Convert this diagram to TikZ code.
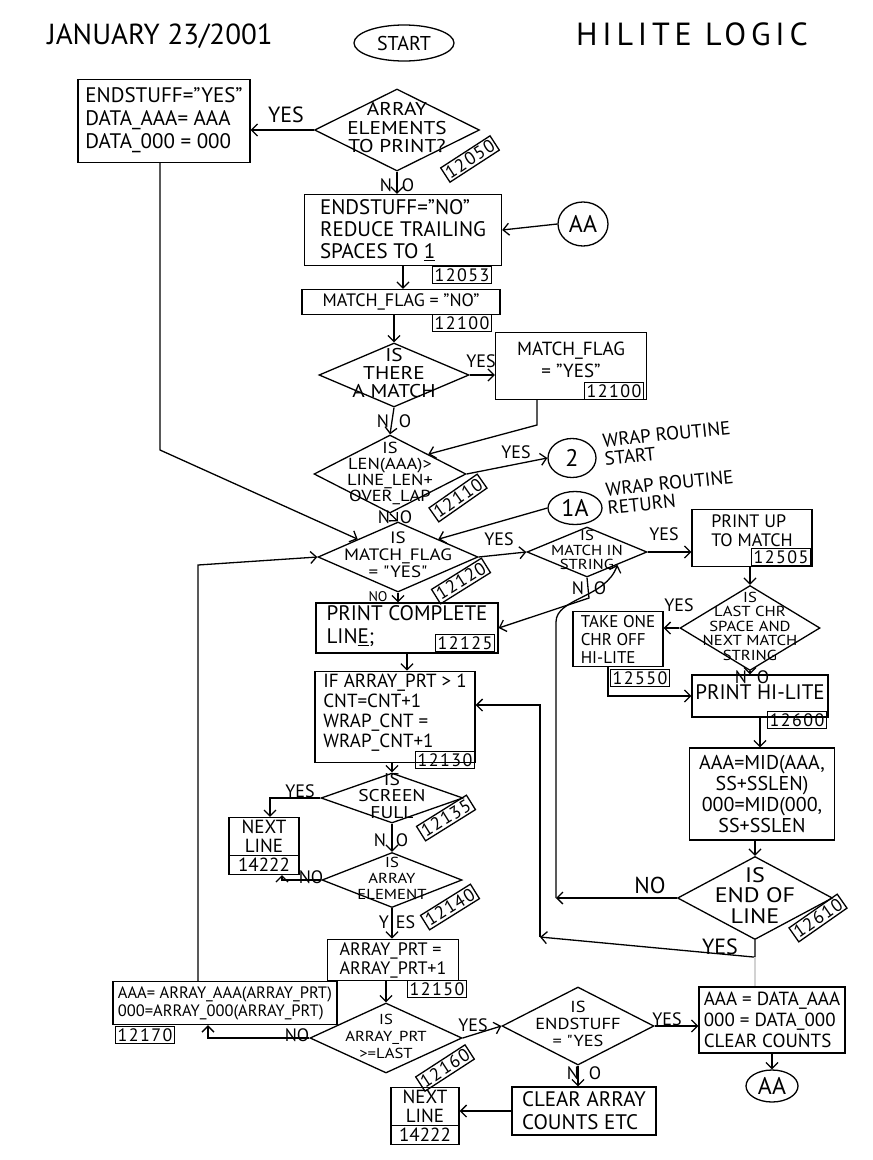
\documentclass[tikz,border=0pt]{standalone}
\usepackage{fontspec}
\setmainfont{PT Sans}
\newfontfamily\tagfont[LetterSpace=8]{PT Sans}
\newfontfamily\dfont[FakeStretch=1.15]{PT Sans}
\usetikzlibrary{shapes.geometric}
\usetikzlibrary{shapes.multipart}
\usetikzlibrary{arrows.meta}
\tikzset{>={Straight Barb[length=6pt,width=12pt]}}
\tikzset{
	% process boxes
	procbox/.style={draw, rectangle, inner sep=3pt, align=left, font=\fontsize{21}{23}\selectfont},
	% decisions
	decide/.style={draw, diamond, inner sep=0pt, font=\dfont\fontsize{17}{16}\selectfont},
	% page connectors and start
	pagecon/.style={draw, ellipse, inner sep=0pt, font=\fontsize{24}{24}\selectfont},
	% statement numbers
	numtag/.style={draw, inner xsep=2pt, inner ysep=2pt, font=\tagfont\fontsize{18}{18}\selectfont},
	% yes / no on the lines
	flowlbl/.style={inner sep=1pt, font=\fontsize{18}{18}\selectfont},
	% next line boxes
	nextbox/.style={draw, rectangle split, rectangle split parts=2, align=center, inner sep=2pt, font=\fontsize{19}{19}\selectfont},
}
% text of a diamond, kept out of its size
\newcommand{\dtext}[1]{\makebox[0pt]{\begin{tabular}{@{}c@{}}#1\end{tabular}}}

\begin{document}
\begin{tikzpicture}[x=1pt,y=-1pt,line width=1.3pt]
\useasboundingbox (0,0) rectangle (873,1160);
% heading
\node[font=\fontsize{29}{29}\selectfont] (date) at (160,36) {JANUARY 23/2001};
\node[pagecon, font=\fontsize{20}{20}\selectfont, minimum width=100pt, minimum height=36pt] (start) at (404,43) {START};
\node[font=\fontsize{32}{32}\selectfont\addfontfeature{LetterSpace=15}] (title) at (692,34) {HILITE LOGIC};

% top of the routine
\node[decide, font=\dfont\fontsize{18.5}{17}\selectfont, minimum width=165pt, minimum height=82pt] (elem) at (397,130) {\dtext{ARRAY\\ELEMENTS\\TO PRINT?}};
\node[numtag, rotate=33] (t12050) at (470,159) {12050};
\node[procbox, text depth=6pt, minimum width=172pt, minimum height=83pt] (endyes) at (164,121) {ENDSTUFF="YES"\\DATA\_AAA= AAA\\DATA\_000 = 000};
\node[procbox, minimum width=197pt, minimum height=71pt, font=\fontsize{21}{22}\selectfont] (reduce) at (403,230) {ENDSTUFF="NO"\\REDUCE TRAILING\\SPACES TO \underline{1}};
\node[numtag] (t12053) at (462,275) {12053};
\node[pagecon, minimum width=50pt, minimum height=44pt] (aa1) at (583,224) {AA};
\node[procbox, minimum width=198pt, minimum height=25pt, font=\fontsize{18}{18}\selectfont] (nomatch) at (401,302) {MATCH\_FLAG = "NO"};
\node[numtag] (t12100a) at (462,323) {12100};
\node[decide, font=\dfont\fontsize{18.5}{16}\selectfont, minimum width=150pt, minimum height=64pt] (there) at (394,375) {\dtext{IS\\THERE\\A MATCH}};
\node[procbox, align=center, text depth=12pt, minimum width=151pt, minimum height=67pt, font=\fontsize{19}{22}\selectfont] (yesmatch) at (571,366) {MATCH\_FLAG\\= "YES"};
\node[numtag] (t12100b) at (614,391) {12100};
\node[decide, font=\dfont\fontsize{16}{14.5}\selectfont, minimum width=152pt, minimum height=78pt] (toolong) at (390,474) {\dtext{IS\\LEN(AAA)>\\LINE\_LEN+\\OVER\_LAP}};
\node[numtag, rotate=35] (t12110) at (458,498) {12110};
\node[pagecon, minimum width=48pt, minimum height=39pt] (two) at (572,458) {2};
\node[flowlbl, font=\fontsize{19}{18}\selectfont, align=left, anchor=west, rotate=6] (wrapgo) at (602,450) {WRAP ROUTINE\\START};
\node[pagecon, minimum width=54pt, minimum height=33pt] (onea) at (575,508) {1A};
\node[flowlbl, font=\fontsize{19}{18}\selectfont, align=left, anchor=west, rotate=6] (wrapback) at (605,499) {WRAP ROUTINE\\RETURN};

% middle
\node[decide, minimum width=160pt, minimum height=70pt, font=\dfont\fontsize{16.5}{17}\selectfont] (flagset) at (398,557) {\dtext{IS\\MATCH\_FLAG\\= "YES"}};
\node[numtag, rotate=32] (t12120) at (461,581) {12120};
\node[decide, minimum width=120pt, minimum height=50pt, font=\dfont\fontsize{14.5}{14}\selectfont] (instring) at (587,552) {\dtext{IS\\MATCH IN\\STRING}};
\node[procbox, text depth=14pt, minimum width=120pt, minimum height=57pt, font=\fontsize{18}{19}\selectfont] (printup) at (752,538) {PRINT UP\\TO MATCH};
\node[numtag] (t12505) at (781,557) {12505};
\node[procbox, text depth=6pt, minimum width=182pt, minimum height=50pt] (complete) at (407,628) {PRINT COMPLETE\\LIN\underline{E};};
\node[numtag] (t12125) at (465,643) {12125};
\node[procbox, text depth=12pt, minimum width=160pt, minimum height=85pt, font=\fontsize{19}{20}\selectfont] (ifprt) at (395,717) {IF ARRAY\_PRT > 1\\CNT=CNT+1\\WRAP\_CNT =\\WRAP\_CNT+1};
\node[numtag] (t12130) at (445,760) {12130};

% right column
\node[decide, minimum width=140pt, minimum height=85pt, font=\dfont\fontsize{14.5}{14}\selectfont] (lastchr) at (750,628) {\dtext{IS\\LAST CHR\\SPACE AND\\NEXT MATCH\\STRING}};
\node[procbox, minimum width=90pt, minimum height=55pt, font=\fontsize{17}{18}\selectfont] (takeone) at (618,639) {TAKE ONE\\CHR OFF\\HI-LITE};
\node[numtag] (t12550) at (640,678) {12550};
\node[procbox, text depth=8pt, minimum width=136pt, minimum height=42pt] (printhl) at (760,696) {PRINT HI-LITE};
\node[numtag] (t12600) at (797,720) {12600};
\node[procbox, align=center, minimum width=145pt, minimum height=92pt, font=\fontsize{20}{21}\selectfont] (midcut) at (762,794) {AAA=MID(AAA,\\SS+SSLEN)\\000=MID(000,\\SS+SSLEN};
\node[decide, minimum width=155pt, minimum height=83pt, font=\dfont\fontsize{21}{18}\selectfont] (endline) at (755,898) {\dtext{IS\\END OF\\LINE}};
\node[numtag, rotate=35] (t12610) at (818,918) {12610};

% lower left
\node[decide, minimum width=142pt, minimum height=50pt, font=\dfont\fontsize{17}{15}\selectfont] (scrfull) at (392,798) {\dtext{IS\\SCREEN\\FULL}};
\node[numtag, rotate=32] (t12135) at (446,818) {12135};
\node[nextbox, minimum width=70pt] (nextA) at (264,846) {NEXT\\LINE\nodepart{two}14222};
\node[decide, minimum width=140pt, minimum height=55pt, font=\dfont\fontsize{14.5}{16}\selectfont] (arrelem) at (392,880) {\dtext{IS\\ARRAY\\ELEMENT}};
\node[numtag, rotate=32] (t12140) at (450,907) {12140};
\node[procbox, minimum width=131pt, minimum height=40pt, font=\fontsize{18}{19}\selectfont] (bump) at (393,960) {ARRAY\_PRT =\\ARRAY\_PRT+1};
\node[numtag] (t12150) at (437,989) {12150};
\node[decide, minimum width=152pt, minimum height=70pt, font=\dfont\fontsize{14.5}{17}\selectfont] (islast) at (386,1038) {\dtext{IS\\ARRAY\_PRT\\>=LAST}};
\node[numtag, rotate=33] (t12160) at (445,1068) {12160};
\node[procbox, minimum width=224pt, minimum height=43pt, font=\fontsize{16.5}{18}\selectfont] (fetch) at (225,1003) {AAA= ARRAY\_AAA(ARRAY\_PRT)\\000=ARRAY\_000(ARRAY\_PRT)};
\node[numtag] (t12170) at (145,1035) {12170};

% bottom
\node[decide, minimum width=152pt, minimum height=78pt, font=\dfont\fontsize{16}{17}\selectfont] (endstuff) at (578,1026) {\dtext{IS\\ENDSTUFF\\= "YES}};
\node[procbox, minimum width=146pt, minimum height=66pt, font=\fontsize{19}{21}\selectfont] (restore) at (772,1020) {AAA = DATA\_AAA\\000 = DATA\_000\\CLEAR COUNTS};
\node[pagecon, minimum width=52pt, minimum height=32pt] (aa2) at (772,1086) {AA};
\node[procbox, minimum width=144pt, minimum height=48pt] (clear) at (584,1111) {CLEAR ARRAY\\COUNTS ETC};
\node[nextbox, minimum width=68pt] (nextB) at (425,1116) {NEXT\\LINE\nodepart{two}14222};

% bends of the lines
\coordinate (bendA) at (160,450);
\coordinate (bendB) at (537,425);
\coordinate (loopx) at (198,565);
\coordinate (noturn) at (589,598);
\coordinate (noback) at (556,898);
\coordinate (yesback) at (540,937);

% yes / no
\node[flowlbl, font=\fontsize{22}{22}\selectfont] (yes1) at (286,115) {YES};
\node[flowlbl] (no1) at (397,185) {N\hspace{10pt}O};
\node[flowlbl] (yes2) at (481,361) {YES};
\node[flowlbl] (no2) at (394,421) {N\hspace{10pt}O};
\node[flowlbl] (yes3) at (516,452) {YES};
\node[flowlbl] (no3) at (395,517) {N\hspace{10pt}O};
\node[flowlbl] (yes4) at (499,539) {YES};
\node[flowlbl] (yes5) at (664,534) {YES};
\node[flowlbl] (no4) at (589,588) {N\hspace{10pt}O};
\node[flowlbl, font=\fontsize{14}{14}\selectfont] (no5) at (378,597) {NO};
\node[flowlbl] (yes6) at (679,605) {YES};
\node[flowlbl] (no6) at (752,677) {N\hspace{10pt}O};
\node[flowlbl] (yes7) at (300,791) {YES};
\node[flowlbl] (no7) at (391,840) {N\hspace{10pt}O};
\node[flowlbl] (no8) at (311,877) {NO};
\node[flowlbl] (yes8) at (397,922) {Y\hspace{7pt}ES};
\node[flowlbl] (no9) at (297,1035) {NO};
\node[flowlbl] (yes9) at (473,1025) {YES};
\node[flowlbl] (yes10) at (667,1019) {YES};
\node[flowlbl] (no10) at (584,1073) {N\hspace{10pt}O};
\node[flowlbl, font=\fontsize{23}{23}\selectfont] (no11) at (650,885) {NO};
\node[flowlbl, font=\fontsize{22}{22}\selectfont] (yes11) at (720,947) {YES};

% connectors
\draw[->] (elem.west) -- (elem.west -| endyes.east);
\draw[->] ([xshift=-4pt]endyes.south) -- (bendA) -- (flagset.north west);
\draw[->] (elem.south) -- (elem.south |- reduce.north);
\draw[->] (aa1.west) -- (reduce.east);
\draw[->] (reduce.south) -- (reduce.south |- nomatch.north);
\draw[->] (there.north |- nomatch.south) -- (there.north);
\draw[->] (there.east) -- (there.east -| yesmatch.west);
\draw[->] (yesmatch.south -| bendB) -- (bendB) -- (toolong.north east);
\draw[->] (there.south) -- (toolong.north);
\draw[->] (toolong.east) -- (two.west);
\draw[->] (toolong.south) -- (flagset.north);
\draw[->] (onea.west) -- (flagset.north east);
\draw[->] (fetch.north -| loopx) -- (loopx) -- (flagset.west);
\draw[->] (flagset.east) -- (instring.west);
\draw[->] (instring.east) -- (instring.east -| printup.west);
\draw[->] (instring.south) -- (noturn) -- (complete.east);
\draw[->] (flagset.south) -- (flagset.south |- complete.north);
\draw[->] (complete.south) -- (complete.south |- ifprt.north);
\draw[->] (scrfull.north |- ifprt.south) -- (scrfull.north);
\draw[->] (scrfull.west) -| ([xshift=6pt]nextA.north);
\draw[->] (scrfull.south) -- (arrelem.north);
\draw[->] (arrelem.west) -| ([xshift=18pt]nextA.south);
\draw[->] (arrelem.south) -- (arrelem.south |- bump.north);
\draw[->] (islast.north |- bump.south) -- (islast.north);
\draw[->] (islast.west) -| ([xshift=-17pt]fetch.south);
\draw[->] (islast.east) -- (endstuff.west);
\draw[->] (endstuff.east) -- (endstuff.east -| restore.west);
\draw[->] (restore.south) -- (aa2.north);
\draw[->] (endstuff.south) -- (endstuff.south |- clear.north);
\draw[->] (clear.west) -- (clear.west -| nextB.east);
\draw[->] (lastchr.north |- printup.south) -- (lastchr.north);
\draw[->] (lastchr.west) -- (lastchr.west -| takeone.east);
\draw[->] ([xshift=-10pt]takeone.south) |- (printhl.west);
\draw[->] (lastchr.south) -- (lastchr.south |- printhl.north);
\draw[->] (printhl.south) -- (printhl.south |- midcut.north);
\draw[->] (endline.north |- midcut.south) -- (endline.north);
\draw[->] (endline.west) -- (noback);
\draw[->] (noback) -- (556,622) .. controls (556,598) and (606,598) .. (instring.south east);
\draw[->] (endline.south) -- ++(0,17) -- (yesback);
\draw[->] (yesback) |- ([yshift=12pt]ifprt.east);
\draw[gray!35] ([yshift=-17pt]endline.south) -- (restore.north -| endline.south);
\end{tikzpicture}
\end{document}
